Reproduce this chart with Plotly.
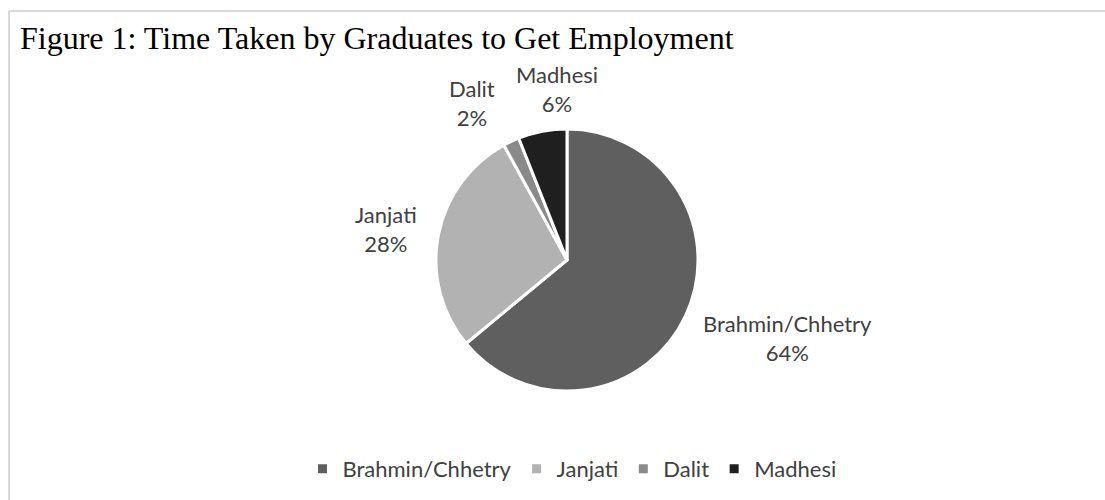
import plotly.graph_objects as go

categories = ["Brahmin/Chhetry", "Janjati", "Dalit", "Madhesi"]
values = [64, 28, 2, 6]
colors = ["#5f5f5f", "#b2b2b2", "#8a8a8a", "#1f1f1f"]

W, H = 1105, 500
cx, cy, r = 567, 260, 131

fig = go.Figure()
fig.add_trace(go.Pie(
    labels=categories,
    values=values,
    sort=False,
    direction="clockwise",
    rotation=0,
    textinfo="none",
    hoverinfo="label+percent",
    marker=dict(colors=colors, line=dict(color="white", width=3)),
    domain=dict(x=[(cx - r) / W, (cx + r) / W], y=[(H - cy - r) / H, (H - cy + r) / H]),
))

# label placement (pixel positions of label centres)
label_pos = [(787, 338), (386, 229), (472, 103), (557, 89)]
total = sum(values)
annotations = []
for cat, v, (px, py) in zip(categories, values, label_pos):
    annotations.append(dict(
        x=px / W, y=1 - py / H, xref="paper", yref="paper",
        text=f"{cat}<br>{round(100 * v / total)}%",
        showarrow=False, xanchor="center", yanchor="middle",
        font=dict(family="Lato", size=22, color="#404040"),
    ))
annotations.append(dict(
    x=18 / W, y=1 - 38 / H, xref="paper", yref="paper",
    text="Figure 1: Time Taken by Graduates to Get Employment",
    showarrow=False, xanchor="left", yanchor="middle",
    font=dict(family="Liberation Serif", size=32, color="black"),
))

shapes = [
    dict(type="line", xref="paper", yref="paper", x0=9 / W, x1=1, y0=1 - 11 / H, y1=1 - 11 / H,
         line=dict(color="#d9d9d9", width=2)),
    dict(type="line", xref="paper", yref="paper", x0=9 / W, x1=9 / W, y0=1 - 11 / H, y1=0,
         line=dict(color="#d9d9d9", width=2)),
]

fig.update_layout(
    width=W, height=H,
    margin=dict(l=0, r=0, t=0, b=0),
    paper_bgcolor="white", plot_bgcolor="white",
    annotations=annotations, shapes=shapes,
    showlegend=True,
    legend=dict(orientation="h", x=572 / W, xanchor="center", y=1 - 469 / H, yanchor="middle",
                font=dict(family="Lato", size=22, color="#404040"),
                itemwidth=30, traceorder="normal"),
)

fig.write_html("out.html")
